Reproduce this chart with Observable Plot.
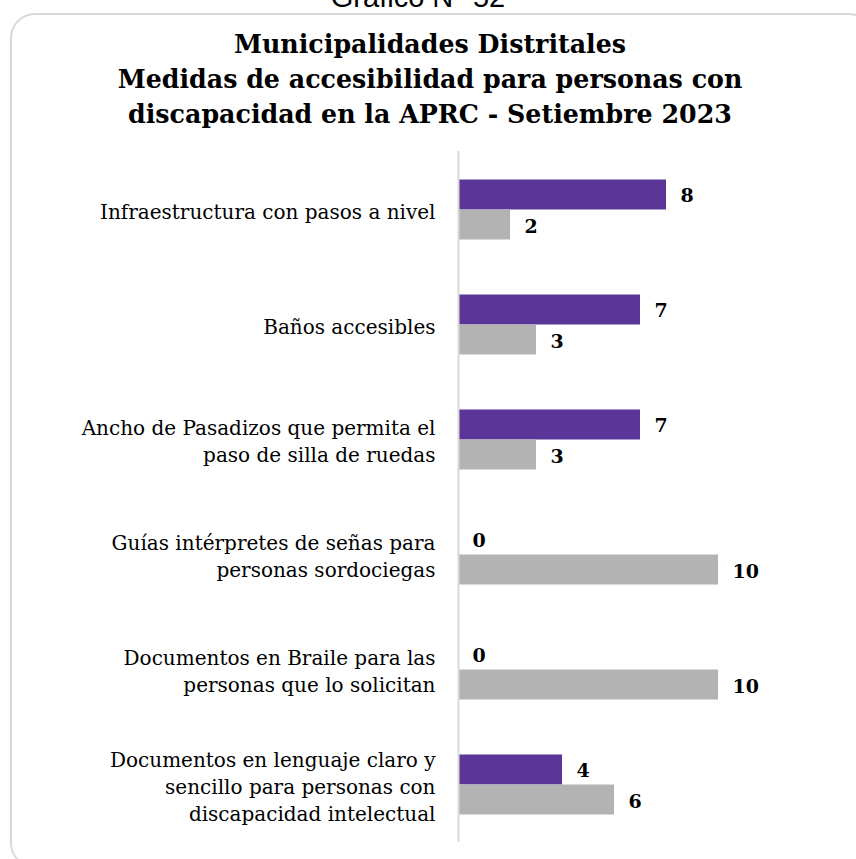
<!DOCTYPE html>
<html>
<head>
<meta charset="utf-8">
<script src="https://cdn.jsdelivr.net/npm/d3@7"></script>
<script src="https://cdn.jsdelivr.net/npm/@observablehq/plot@0.6"></script>
<style>
  html, body { margin: 0; padding: 0; background: #fff; width: 856px; height: 859px; overflow: hidden; position: relative; }
  #box { position: absolute; left: 10px; top: 13px; width: 864px; height: 855px; border: 2px solid #d9d9d9; border-radius: 25px; box-sizing: border-box; }
  #fig { position: absolute; left: 0; width: 836px; top: -17px; text-align: center; font-family: "Liberation Sans", Arial, sans-serif; font-size: 29px; line-height: 29px; color: #000; }
  #title { position: absolute; left: 0; width: 860px; top: 27px; text-align: center; font-family: "DejaVu Serif", serif; font-weight: bold; font-size: 25.3px; line-height: 35px; color: #000; }
  #chart { position: absolute; left: 0; top: 140px; }
</style>
</head>
<body>
<div id="box"></div>
<div id="fig">Gráfico N° 52</div>
<div id="title">Municipalidades Distritales<br>Medidas de accesibilidad para personas con<br>discapacidad en la APRC - Setiembre 2023</div>
<div id="chart"></div>
<script>
const categories = [
  "Infraestructura con pasos a nivel",
  "Baños accesibles",
  "Ancho de Pasadizos que permita el paso de silla de ruedas",
  "Guías intérpretes de señas para personas sordociegas",
  "Documentos en Braile para las personas que lo solicitan",
  "Documentos en lenguaje claro y sencillo para personas con discapacidad intelectual"
];
const categoryLabels = [
  "Infraestructura con pasos a nivel",
  "Baños accesibles",
  "Ancho de Pasadizos que permita el\npaso de silla de ruedas",
  "Guías intérpretes de señas para\npersonas sordociegas",
  "Documentos en Braile para las\npersonas que lo solicitan",
  "Documentos en lenguaje claro y\nsencillo para personas con\ndiscapacidad intelectual"
];
const seriesNames = ["Sí", "No"];
const valuesSi = [8, 7, 7, 0, 0, 4];
const valuesNo = [2, 3, 3, 10, 10, 6];
const colors = ["#5b3598", "#b3b3b3"];

const rows = categories.flatMap((c, i) => [
  {cat: c, serie: seriesNames[0], value: valuesSi[i]},
  {cat: c, serie: seriesNames[1], value: valuesNo[i]}
]);
const si = rows.filter(d => d.serie === seriesNames[0]);
const no = rows.filter(d => d.serie === seriesNames[1]);
const font = "'DejaVu Serif', serif";

const chart = Plot.plot({
  width: 856,
  height: 715,
  marginLeft: 458,
  marginRight: 138,
  marginTop: 11,
  marginBottom: 13,
  style: {fontFamily: font, background: "transparent", color: "#000"},
  x: {domain: [0, 10], axis: null},
  y: {domain: categories, axis: null, padding: 0},
  marks: [
    Plot.barX(si, {x: "value", y: "cat", fill: colors[0], insetTop: 27.5, insetBottom: 57.5}),
    Plot.barX(no, {x: "value", y: "cat", fill: colors[1], insetTop: 57.5, insetBottom: 27.5}),
    Plot.ruleX([0], {stroke: "#d9d9d9", strokeWidth: 2}),
    Plot.text(si, {x: "value", y: "cat", text: d => String(d.value), textAnchor: "start", dx: 14, dy: -14, fontWeight: "bold", fontSize: 19, fill: "#000"}),
    Plot.text(no, {x: "value", y: "cat", text: d => String(d.value), textAnchor: "start", dx: 14, dy: 17, fontWeight: "bold", fontSize: 19, fill: "#000"}),
    Plot.text(categories, {x: () => 0, y: d => d, text: (d, i) => categoryLabels[i], textAnchor: "end", dx: -23, fontSize: 20, lineHeight: 1.35, fill: "#000"})
  ]
});
document.getElementById("chart").appendChild(chart);
</script>
</body>
</html>
